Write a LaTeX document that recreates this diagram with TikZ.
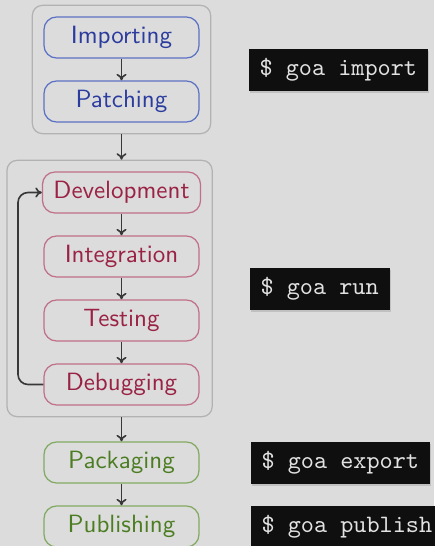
\documentclass[tikz,border=0pt]{standalone}
\usepackage{tikz}
\usetikzlibrary{fit, shadows, arrows.meta}
\definecolor{bgGray}{HTML}{DCDCDC}
\definecolor{myBlue}{HTML}{2B3C9E}
\definecolor{myBlueLine}{HTML}{5C72C4}
\definecolor{myRed}{HTML}{9A2244}
\definecolor{myRedLine}{HTML}{C07088}
\definecolor{myGreen}{HTML}{4C7D22}
\definecolor{myGreenLine}{HTML}{82AA62}
\definecolor{groupLine}{HTML}{B2B2B2}
\definecolor{arrowGray}{HTML}{383838}
\definecolor{termText}{HTML}{E2E2E2}

\tikzset{
  stage/.style = {draw, rounded corners = 5pt, line width = 0.5pt, font = \sffamily,
    minimum width = 62pt, minimum height = 16.4pt, inner xsep = 4.4pt, inner ysep = 0pt},
  group/.style = {draw = groupLine, rounded corners = 4pt, line width = 0.5pt, inner sep = 4.4pt},
  cmd/.style = {fill = black!94, text = termText, font = \ttfamily, anchor = west,
    minimum height = 16.8pt, inner xsep = 4.4pt, inner ysep = 0pt,
    drop shadow = {shadow xshift = 0.4pt, shadow yshift = -0.8pt, opacity = 0.3}},
  flow/.style = {-{To[length = 2.6pt, width = 4pt]}, arrowGray, line width = 0.65pt}
}

\begin{document}
\begin{tikzpicture}[x = 0.4pt, y = -0.4pt]
		\fill[bgGray] (0, 0) rectangle (434, 546);
		\useasboundingbox (0, 0) rectangle (434, 546);
		%%%%%%%%%%%%%
		\node[stage, draw = myBlueLine, text = myBlue] (imp) at (121.5, 37.5) {Importing};
		\node[stage, draw = myBlueLine, text = myBlue] (pat) at (121.5, 101.5) {Patching};
		\node[stage, draw = myRedLine, text = myRed] (dev) at (121.5, 192.5) {Development};
		\node[stage, draw = myRedLine, text = myRed] (int) at (121.5, 256.5) {Integration};
		\node[stage, draw = myRedLine, text = myRed] (tst) at (121.5, 320.5) {Testing};
		\node[stage, draw = myRedLine, text = myRed] (dbg) at (121.5, 384.5) {Debugging};
		\node[stage, draw = myGreenLine, text = myGreen] (pkg) at (121.5, 462.5) {Packaging};
		\node[stage, draw = myGreenLine, text = myGreen] (pub) at (121.5, 526.5) {Publishing};
		\coordinate (loop) at (18, 288);
		%%%%%%%%%%%%%
		\node[group, fit = (imp)(pat)] (prep) {};
		\node[group, fit = (dev)(dbg)(loop)] (cycle) {};
		%%%%%%%%%%%%%
		\node[cmd] (cImp) at (248, 70) {\$ goa import};
		\node[cmd] (cRun) at (249, 289) {\$ goa run};
		\node[cmd] (cExp) at (250, 463) {\$ goa export};
		\node[cmd] (cPub) at (250, 527) {\$ goa publish};
		%%%%%%%%%%%%%%%%%%%%%%
		\draw[flow] (imp) -- (pat);
		\draw[flow] (prep.south -| pat.south) -- (pat.south |- cycle.north);
		\draw[flow] (dev) -- (int); \draw[flow] (int) -- (tst); \draw[flow] (tst) -- (dbg);
		\draw[flow, rounded corners = 4pt] (dbg.west) -| (loop) |- (dev.west);
		\draw[flow] (pkg.north |- cycle.south) -- (pkg.north);
		\draw[flow] (pkg) -- (pub);
\end{tikzpicture}
\end{document}
